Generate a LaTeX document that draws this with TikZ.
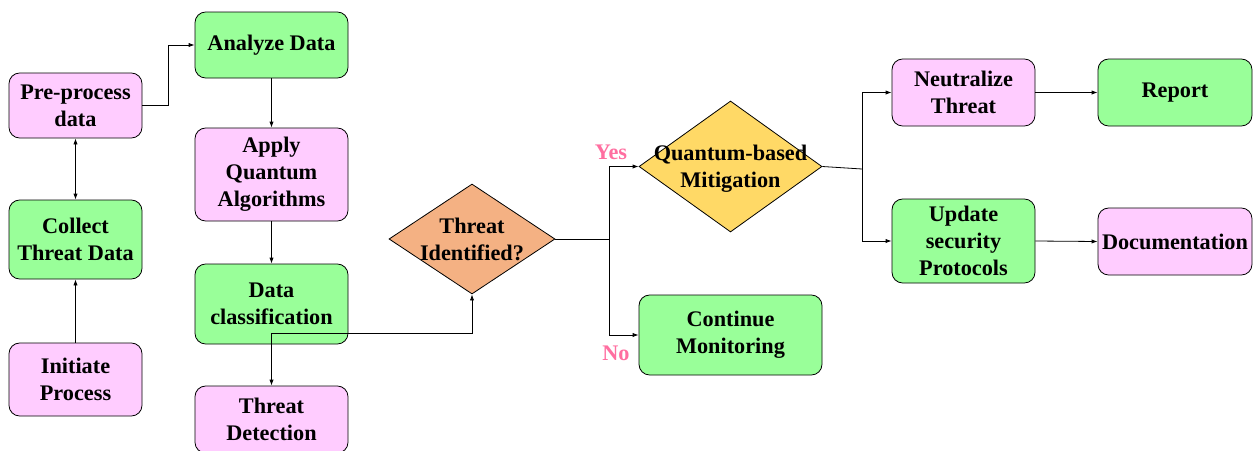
\documentclass[tikz,border=0pt]{standalone}
\usepackage{fontspec}
\setmainfont{Liberation Serif}
\usetikzlibrary{shapes.geometric,arrows.meta}
\definecolor{boxpink}{RGB}{255,204,255}
\definecolor{boxgreen}{RGB}{153,255,153}
\definecolor{dorange}{RGB}{244,177,131}
\definecolor{dyellow}{RGB}{255,217,102}
\definecolor{lblpink}{RGB}{255,110,160}
\begin{document}
\begin{tikzpicture}[x=0.75pt,y=-0.75pt,
  txt/.style={align=center, font=\fontsize{16.7}{20.2}\selectfont\bfseries},
  box/.style={txt, draw=black, rounded corners=8pt, line width=0.6pt, inner sep=0pt,
    execute at begin node={\vspace*{3.2pt}}},
  pinkbox/.style={box, fill=boxpink},
  greenbox/.style={box, fill=boxgreen},
  decision/.style={diamond, draw=black, line width=0.6pt, inner sep=0pt},
  arr/.style={-{Latex[length=4.5pt,width=3.2pt]}, line width=0.6pt},
  dbl/.style={{Latex[length=4.5pt,width=3.2pt]}-{Latex[length=4.5pt,width=3.2pt]}, line width=0.6pt},
  ln/.style={line width=0.6pt},
  lbl/.style={text=lblpink, font=\fontsize{16.7}{20}\selectfont\bfseries, inner sep=0pt}
]
\useasboundingbox (0,0) rectangle (1253,450);

% left column
\node[pinkbox, minimum width=99.75pt, minimum height=48.75pt] (pre) at (75.5,105.5) {Pre-process\\data};
\node[greenbox, minimum width=99.75pt, minimum height=59.25pt] (collect) at (75.5,239.5) {Collect\\Threat Data};
\node[pinkbox, minimum width=99.75pt, minimum height=54.75pt] (init) at (75.5,379.5) {Initiate\\Process};

% second column
\node[greenbox, minimum width=114.75pt, minimum height=49.5pt] (analyze) at (271.5,45) {Analyze Data};
\node[pinkbox, minimum width=114.75pt, minimum height=69.75pt] (apply) at (271.5,174.5) {Apply\\Quantum\\Algorithms};
\node[greenbox, minimum width=114.75pt, minimum height=60pt] (classif) at (271.5,304) {Data\\classification};
\node[pinkbox, minimum width=114.75pt, minimum height=50.25pt] (detect) at (271.5,419.5) {Threat\\Detection};

% decisions
\node[decision, fill=dorange, minimum width=124.5pt, minimum height=82.5pt] (ident) at (472,239) {};
\node[txt, inner sep=0pt] (identtxt) at (472,239.5) {Threat\\Identified?};
\node[decision, fill=dyellow, minimum width=137.25pt, minimum height=98.25pt] (mitig) at (730.5,166.5) {};
\node[txt, inner sep=0pt] (mitigtxt) at (730.5,168.5) {Quantum-based\\Mitigation};
\node[greenbox, minimum width=137.25pt, minimum height=60pt] (cont) at (730.5,335) {Continue\\Monitoring};

% right part
\node[pinkbox, minimum width=107.25pt, minimum height=50.25pt] (neut) at (963.5,92.5) {Neutralize\\Threat};
\node[greenbox, minimum width=107.25pt, minimum height=63pt] (upd) at (963.5,241) {Update\\security\\Protocols};
\node[greenbox, minimum width=115.5pt, minimum height=50.25pt] (report) at (1175,92.5) {Report};
\node[pinkbox, minimum width=115.5pt, minimum height=50.25pt] (doc) at (1175,241.5) {Documentation};

% labels
\node[lbl] (yes) at (611,152) {Yes};
\node[lbl] (no) at (616,353) {No};

% junctions
\coordinate (j1) at (271.5,333);
\coordinate (j2) at (609,239);
\coordinate (j3) at (862,169);

% connectors
\draw[arr] (init) -- (collect);
\draw[dbl] (pre) -- (collect);
\draw[arr] (pre.east) -- ++(26,0) |- (analyze.west);
\draw[arr] (analyze) -- (apply);
\draw[arr] (apply) -- (classif);
\draw[arr] (j1) -- (detect.north);
\draw[arr] (j1) -| (ident.south);
\draw[ln] (ident.east) -- (j2);
\draw[arr] (j2) |- (mitig.west);
\draw[arr] (j2) |- (cont.west);
\draw[ln] (mitig.east) -- (j3);
\draw[arr] (j3) |- (neut.west);
\draw[arr] (j3) |- (upd.west);
\draw[arr] (neut) -- (report);
\draw[arr] (upd.east) -- (doc.west);
\end{tikzpicture}
\end{document}
